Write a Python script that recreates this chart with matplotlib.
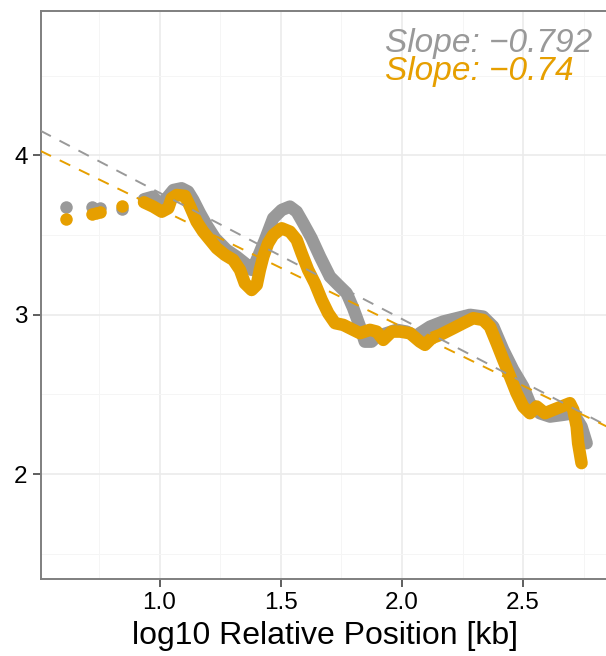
import numpy as np
import matplotlib
matplotlib.use("Agg")
from matplotlib import pyplot as plt

plt.rcParams['font.family'] = ['Liberation Sans', 'DejaVu Sans']

# colours of the two samples
grey_col = "#999999"
orange_col = "#E69F00"

# isolated points at small distances (log10 kb, value)
grey_dots_x = [0.614, 0.720, 0.754, 0.844]
grey_dots_y = [3.678, 3.676, 3.671, 3.660]
orange_dots_x = [0.614, 0.720, 0.740, 0.754, 0.844]
orange_dots_y = [3.600, 3.629, 3.636, 3.643, 3.682]

# continuous part of the grey profile
grey_x = [0.936, 0.974, 1.002, 1.029, 1.057, 1.091, 1.118, 1.139, 1.167, 1.194,
          1.229, 1.277, 1.318, 1.352, 1.381, 1.401, 1.435, 1.469, 1.504, 1.538,
          1.566, 1.593, 1.627, 1.662, 1.703, 1.737, 1.772, 1.799, 1.827, 1.847,
          1.875, 1.896, 1.937, 1.978, 2.019, 2.061, 2.074, 2.116, 2.170, 2.226,
          2.281, 2.335, 2.377, 2.418, 2.459, 2.500, 2.528, 2.569, 2.611, 2.665,
          2.707, 2.741, 2.762]
grey_y = [3.724, 3.740, 3.688, 3.730, 3.782, 3.793, 3.772, 3.720, 3.636, 3.563,
          3.480, 3.406, 3.364, 3.323, 3.281, 3.344, 3.469, 3.605, 3.657, 3.678,
          3.646, 3.574, 3.480, 3.364, 3.239, 3.187, 3.135, 3.041, 2.925, 2.831,
          2.831, 2.863, 2.884, 2.905, 2.894, 2.863, 2.884, 2.925, 2.957, 2.978,
          2.999, 2.988, 2.925, 2.779, 2.654, 2.549, 2.445, 2.382, 2.361, 2.372,
          2.382, 2.298, 2.194]

# continuous part of the orange profile
orange_x = [0.936, 0.974, 1.009, 1.036, 1.050, 1.071, 1.105, 1.125, 1.153, 1.180,
            1.208, 1.236, 1.270, 1.304, 1.332, 1.352, 1.380, 1.401, 1.414, 1.428,
            1.448, 1.469, 1.504, 1.538, 1.566, 1.586, 1.613, 1.641, 1.669, 1.696,
            1.724, 1.758, 1.799, 1.827, 1.868, 1.896, 1.923, 1.958, 1.992, 2.033,
            2.074, 2.095, 2.123, 2.157, 2.212, 2.253, 2.294, 2.335, 2.363, 2.391,
            2.418, 2.446, 2.473, 2.500, 2.528, 2.556, 2.590, 2.624, 2.659, 2.693,
            2.707, 2.721, 2.727, 2.741]
orange_y = [3.705, 3.678, 3.646, 3.668, 3.730, 3.751, 3.745, 3.682, 3.584, 3.521,
            3.469, 3.417, 3.375, 3.344, 3.281, 3.197, 3.155, 3.187, 3.281, 3.364,
            3.448, 3.500, 3.542, 3.521, 3.469, 3.386, 3.281, 3.197, 3.093, 3.009,
            2.947, 2.936, 2.905, 2.884, 2.905, 2.894, 2.842, 2.894, 2.894, 2.884,
            2.831, 2.811, 2.853, 2.873, 2.915, 2.947, 2.978, 2.967, 2.925, 2.821,
            2.717, 2.612, 2.508, 2.424, 2.382, 2.424, 2.382, 2.403, 2.424, 2.445,
            2.403, 2.298, 2.194, 2.069]

# fitted lines
grey_slope, grey_icpt = -0.792, 4.557
orange_slope, orange_icpt = -0.74, 4.404

fig = plt.figure(figsize=(6.06, 6.56), dpi=100)
ax = fig.add_axes([40.5 / 606, 77.3 / 656, 568 / 606, 567.7 / 656])

pt_lw = 9.0
for dx, dy, cx, cy, c in [(grey_dots_x, grey_dots_y, grey_x, grey_y, grey_col),
                          (orange_dots_x, orange_dots_y, orange_x, orange_y, orange_col)]:
    ax.scatter(dx, dy, s=pt_lw ** 2, color=c, linewidths=0, zorder=3)
    ax.plot(cx, cy, color=c, lw=pt_lw, solid_capstyle='round',
            solid_joinstyle='round', zorder=3)

for s, b, c in [(grey_slope, grey_icpt, grey_col), (orange_slope, orange_icpt, orange_col)]:
    ax.axline((0, b), slope=s, color=c, lw=1.4, ls=(0, (6, 5)), zorder=4)

ax.text(1.93, 4.648, "Slope: \u22120.792", color=grey_col, fontsize=24,
        style='italic', ha='left', va='baseline')
ax.text(1.93, 4.472, "Slope: \u22120.74", color=orange_col, fontsize=24,
        style='italic', ha='left', va='baseline')

ax.set_xlim(0.509, 0.509 + 568 / 242.4)
ax.set_ylim(1.344, 4.905)
ax.set_xticks([1.0, 1.5, 2.0, 2.5])
ax.set_xticklabels(["1.0", "1.5", "2.0", "2.5"])
ax.set_yticks([2, 3, 4])
ax.set_xticks([0.75, 1.25, 1.75, 2.25, 2.75], minor=True)
ax.set_yticks([1.5, 2.5, 3.5, 4.5], minor=True)
ax.grid(which='major', color='#EBEBEB', lw=1.2)
ax.grid(which='minor', color='#F5F5F5', lw=0.7)
ax.set_axisbelow(True)
ax.tick_params(which='major', length=5.8, width=1.1, color='#333333',
               labelsize=17.5, labelcolor='black', pad=3.5)
ax.tick_params(which='minor', length=0)
for sp in ax.spines.values():
    sp.set_color('#7F7F7F')
    sp.set_linewidth(1.4)
ax.set_xlabel("log10 Relative Position [kb]", fontsize=23, labelpad=5)

plt.savefig("out.png", dpi=100)
